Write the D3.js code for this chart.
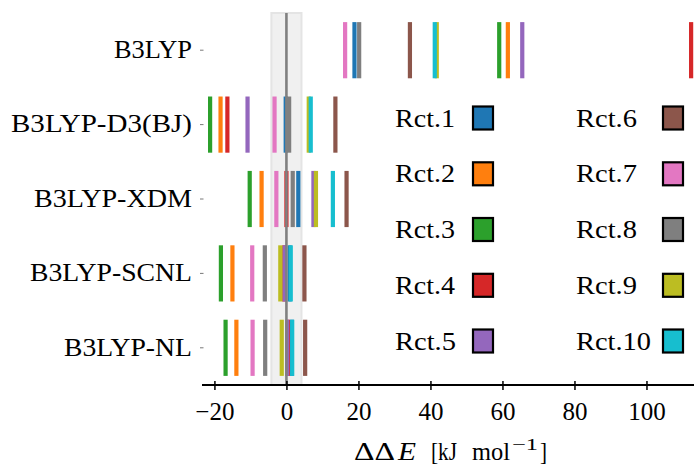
<!DOCTYPE html>
<html>
<head>
<meta charset="utf-8">
<script src="https://cdn.jsdelivr.net/npm/d3@7"></script>
<style>
    body { margin: 0; background: #fff; }
    svg text { font-family: "Liberation Serif", "DejaVu Serif", Tinos, "Times New Roman", "Noto Serif", FreeSerif, serif; fill: #000; }
</style>
</head>
<body>
<svg id="chart" width="694" height="464"></svg>
<script>
const methods = ["B3LYP", "B3LYP-D3(BJ)", "B3LYP-XDM", "B3LYP-SCNL", "B3LYP-NL"];
const reactions = ["Rct.1", "Rct.2", "Rct.3", "Rct.4", "Rct.5", "Rct.6", "Rct.7", "Rct.8", "Rct.9", "Rct.10"];

// ddE per method, in reaction order Rct.1 .. Rct.10
const b3lyp = [18.9, 61.5, 59.1, 112.4, 65.5, 34.3, 16.3, 20.2, 41.75, 41.2];
const b3lypD3 = [-0.2, -18.3, -21.2, -16.4, -10.8, 13.6, -3.3, 0.75, 6.2, 6.75];
const b3lypXDM = [3.3, -6.9, -10.2, 0.0, 7.5, 16.7, -2.8, 1.75, 8.2, 12.9];
const b3lypSCNL = [0.9, -15.0, -18.2, -0.6, -0.5, 5.0, -9.5, -6.0, -1.7, 1.2];
const b3lypNL = [1.5, -13.9, -16.9, 0.4, 0.2, 5.2, -9.4, -5.9, -1.3, 1.6];
const seriesValues = [b3lyp, b3lypD3, b3lypXDM, b3lypSCNL, b3lypNL];

const xTicks = [-20, 0, 20, 40, 60, 80, 100];
const chemAccuracy = 4.184; // 1 kcal/mol band

const colors = ["#1f77b4", "#ff7f0e", "#2ca02c", "#d62728", "#9467bd",
    "#8c564b", "#e377c2", "#7f7f7f", "#bcbd22", "#17becf"];

// label widths
const labelWidths = [78, 181, 158, 162, 128];

const serif = '"Liberation Serif", "DejaVu Serif", Tinos, "Times New Roman", "Noto Serif", FreeSerif, serif';

const svg = d3.select("#chart");
const plotTop = 13, plotBottom = 385, plotLeft = 202, plotRight = 694;

const x = d3.scaleLinear().domain([-23.45, 113.2]).range([plotLeft, plotRight]);
const y = d3.scaleBand().domain(methods).range([plotTop, plotBottom]);
const color = d3.scaleOrdinal().domain(reactions).range(colors);

// shaded +-1 kcal/mol band
svg.append("rect")
    .attr("x", x(-chemAccuracy))
    .attr("y", plotTop)
    .attr("width", x(chemAccuracy) - x(-chemAccuracy))
    .attr("height", plotBottom - plotTop)
    .attr("fill", "#f0f0f0")
    .attr("stroke", "#e4e4e4")
    .attr("stroke-width", 2);

// bars: one thin vertical bar per reaction and method
const rows = methods.map((m, i) => ({ method: m, values: seriesValues[i] }));
const barH = y.bandwidth() * 0.755;

const row = svg.selectAll(".row")
    .data(rows)
    .enter()
    .append("g")
    .attr("class", "row");

row.selectAll("rect")
    .data((d) => d.values.map((v, j) => ({ method: d.method, rct: reactions[j], value: v })))
    .enter()
    .append("rect")
    .attr("x", (d) => x(d.value) - 2.1)
    .attr("width", 4.2)
    .attr("y", (d) => y(d.method) + (y.bandwidth() - barH) / 2)
    .attr("height", barH)
    .attr("fill", (d) => color(d.rct));

// zero line
svg.append("line")
    .attr("x1", x(0)).attr("x2", x(0))
    .attr("y1", plotTop).attr("y2", plotBottom)
    .attr("stroke", "#808080")
    .attr("stroke-width", 2.6);

// y labels
methods.forEach((m, i) => {
    const cy = y(m) + y.bandwidth() / 2;
    svg.append("line")
        .attr("x1", 200).attr("x2", 203.5)
        .attr("y1", cy).attr("y2", cy)
        .attr("stroke", "#555")
        .attr("stroke-width", 0.8);
    svg.append("text")
        .attr("x", 192)
        .attr("y", cy + 7.8)
        .attr("text-anchor", "end")
        .attr("font-family", serif)
        .attr("font-size", 25)
        .attr("textLength", labelWidths[i])
        .attr("lengthAdjust", "spacingAndGlyphs")
        .text(m);
});

// x axis
const axis = svg.append("g")
    .attr("transform", `translate(0,${plotBottom})`)
    .call(d3.axisBottom(x)
        .tickValues(xTicks)
        .tickSize(5)
        .tickFormat((d) => (d < 0 ? "\u2212" + Math.abs(d) : d)));

axis.attr("font-family", serif);
axis.select(".domain")
    .attr("d", `M${plotLeft},0H${plotRight}`)
    .attr("stroke", "#000")
    .attr("stroke-width", 2);
axis.selectAll(".tick line")
    .attr("y1", -4)
    .attr("y2", 5)
    .attr("stroke", "#000")
    .attr("stroke-width", 1.5);
axis.selectAll(".tick text")
    .attr("y", 35)
    .attr("dy", null)
    .attr("font-size", 25)
    .style("font-family", serif)
    .attr("fill", "#000");

// axis title, pieces spaced like the math-mode original
const titleParts = [
    { t: "\u0394\u0394", x: 354, w: 41, size: 26, base: 460 },
    { t: "E", x: 398, w: 18, size: 25, base: 460, italic: true },
    { t: "[kJ", x: 431, w: 26, size: 25, base: 460 },
    { t: "mol", x: 472, w: 38, size: 25, base: 460 },
    { t: "\u22121", x: 512, w: 26, size: 17, base: 450 },
    { t: "]", x: 540, w: 7, size: 25, base: 460 },
];
svg.selectAll(".xtitle")
    .data(titleParts)
    .enter()
    .append("text")
    .attr("class", "xtitle")
    .attr("x", (d) => d.x)
    .attr("y", (d) => d.base)
    .attr("font-family", serif)
    .attr("font-size", (d) => d.size)
    .attr("font-style", (d) => (d.italic ? "italic" : "normal"))
    .attr("textLength", (d) => d.w)
    .attr("lengthAdjust", "spacingAndGlyphs")
    .text((d) => d.t);

// legend, two columns of five
const legendRowY = [118, 173.8, 229.5, 285.3, 341];
const legendTextX = [395, 576];
const legendBoxX = [473, 663];
const legendTextW = [60, 60, 60, 60, 61, 61, 61, 61, 61, 75];

const legend = svg.selectAll(".legend")
    .data(reactions)
    .enter()
    .append("g")
    .attr("class", "legend");

legend.append("text")
    .attr("x", (d, i) => legendTextX[Math.floor(i / 5)])
    .attr("y", (d, i) => legendRowY[i % 5] + 8.5)
    .attr("font-family", serif)
    .attr("font-size", 25)
    .attr("textLength", (d, i) => legendTextW[i])
    .attr("lengthAdjust", "spacingAndGlyphs")
    .text((d) => d);

legend.append("rect")
    .attr("x", (d, i) => legendBoxX[Math.floor(i / 5)])
    .attr("y", (d, i) => legendRowY[i % 5] - 11.5)
    .attr("width", 20)
    .attr("height", 23)
    .attr("fill", (d) => color(d))
    .attr("stroke", "#000")
    .attr("stroke-width", 2.2);
</script>
</body>
</html>
